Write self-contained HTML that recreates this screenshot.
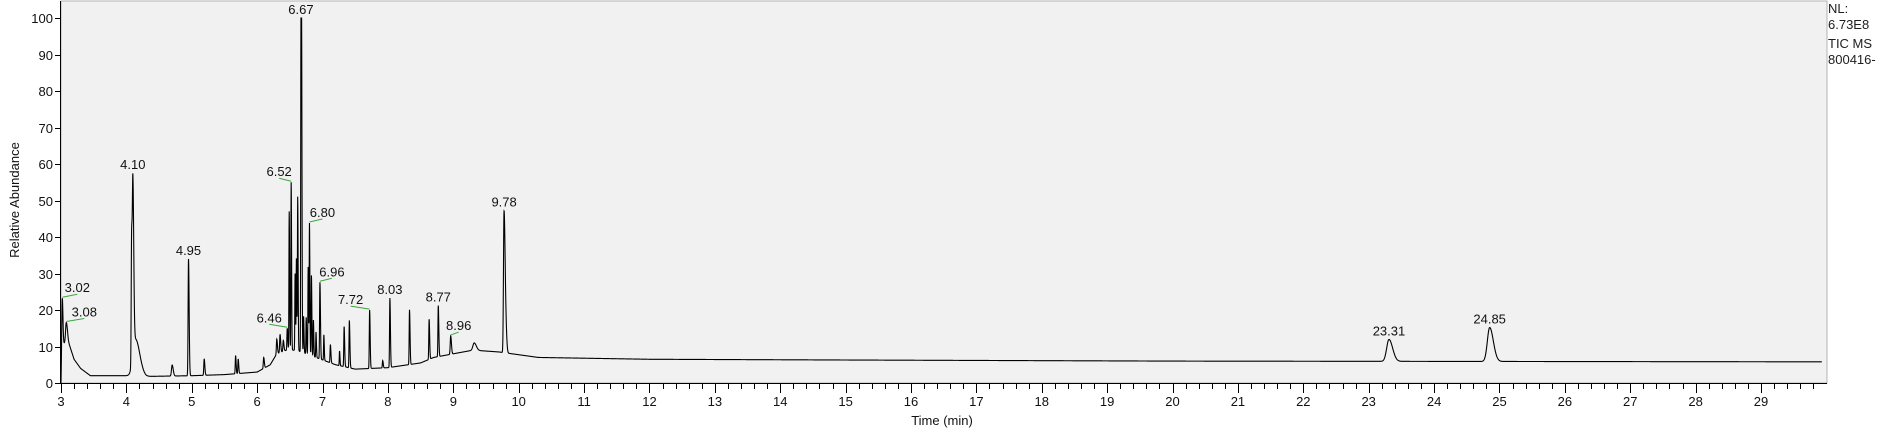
<!DOCTYPE html>
<html><head><meta charset="utf-8">
<style>
html,body{margin:0;padding:0;background:#fff;}
body{width:1879px;height:435px;overflow:hidden;font-family:"Liberation Sans",sans-serif;}
svg text{font-family:"Liberation Sans",sans-serif;}
</style></head>
<body>
<svg id="chart" width="1879" height="435" viewBox="0 0 1879 435" xmlns="http://www.w3.org/2000/svg">
<rect x="61" y="1" width="1766" height="382" fill="#f1f1f1" stroke="#b4b4b4" stroke-width="1"/>
<g id="axes"></g>
<path id="trace" fill="none" stroke="#000" stroke-width="1.1"/>
<g id="labels"></g>
<text x="942" y="425" font-size="13" text-anchor="middle" fill="#111">Time (min)</text>
<text transform="translate(19,200) rotate(-90)" font-size="13" text-anchor="middle" fill="#111">Relative Abundance</text>
<g font-size="13" fill="#202020">
<text x="1828" y="13">NL:</text>
<text x="1828" y="29">6.73E8</text>
<text x="1828" y="48">TIC  MS</text>
<text x="1828" y="64">800416-</text>
</g>
</svg>
<script>
// baseline profile (time, relative abundance)
const baseTimes = [3.0,3.01,3.1,3.2,3.3,3.45,4.0,4.25,4.3,5.0,5.5,6.0,6.2,6.3,6.45,6.6,6.9,7.2,7.5,8.0,8.5,8.7,9.0,9.3,9.7,9.9,10.3,12,15,20,25,29.95];
const baseValues = [0,10,12,6.5,4,2,2,2,1.8,2,2.3,3,5,8,9,9,7,5,3.8,4.2,5.5,7,8,9,8.5,8,7,6.5,6.3,6,5.9,5.8];
// peaks: retention time, height above baseline, width (min)
const peakTimes = [3.02,3.08,4.08,4.10,4.14,4.70,4.95,5.19,5.67,5.71,6.10,6.30,6.35,6.40,6.46,6.49,6.52,6.58,6.60,6.62,6.67,6.68,6.71,6.75,6.78,6.80,6.83,6.86,6.90,6.96,7.02,7.12,7.26,7.33,7.41,7.72,7.92,8.03,8.33,8.63,8.77,8.96,9.32,9.775,9.795,23.31,24.85];
const peakHeights = [13,5,35,45,10,3,32,4.5,5,4,3,4,5,3,6,38,46,21,25,42,91,70,10,10,24,36,22,10,7,21,7,5,4,11,13,16,2,19,15,11,14,5,2,37,12,6,9.3];
const peakWidths = [0.006,0.01,0.006,0.008,0.04,0.01,0.006,0.006,0.005,0.005,0.006,0.006,0.006,0.006,0.005,0.004,0.004,0.004,0.004,0.004,0.004,0.004,0.004,0.004,0.004,0.004,0.004,0.004,0.004,0.005,0.004,0.005,0.004,0.005,0.005,0.005,0.005,0.005,0.005,0.005,0.005,0.007,0.02,0.008,0.01,0.035,0.035];
// labelled peaks
const labelTimes = [3.02,3.08,4.10,4.95,6.46,6.52,6.67,6.80,6.96,7.72,8.03,8.77,8.96,9.78,23.31,24.85];
const labelTexts = ["3.02","3.08","4.10","4.95","6.46","6.52","6.67","6.80","6.96","7.72","8.03","8.77","8.96","9.78","23.31","24.85"];
const labelDx = [15,18,0,0,-18,-12,0,13,12,-19,0,0,8,0,0,0];
const xTicks = [3,4,5,6,7,8,9,10,11,12,13,14,15,16,17,18,19,20,21,22,23,24,25,26,27,28,29];
const yTicks = [0,10,20,30,40,50,60,70,80,90,100];

const X0=61, PX=65.385, Y0=383, PY=3.65;
const xs = t => X0 + (t-3)*PX;
const ys = v => Y0 - v*PY;
const NS="http://www.w3.org/2000/svg";

function baseline(t){
  for(let i=0;i<baseTimes.length-1;i++){
    if(t>=baseTimes[i] && t<=baseTimes[i+1]){
      const f=(t-baseTimes[i])/(baseTimes[i+1]-baseTimes[i]);
      return baseValues[i]+f*(baseValues[i+1]-baseValues[i]);
    }
  }
  return baseValues[baseValues.length-1];
}
function signal(t){
  let v=baseline(t);
  for(let i=0;i<peakTimes.length;i++){
    const d=t-peakTimes[i], w=peakWidths[i];
    if(Math.abs(d)>w*12) continue;
    const ww = d>0 ? w*1.6 : w; // tailing
    v+=peakHeights[i]*Math.exp(-0.5*(d/ww)*(d/ww));
  }
  return Math.min(v,100);
}
let d="";
for(let t=3.0;t<=29.93;t+=0.002){
  d+=(d?"L":"M")+xs(t).toFixed(2)+" "+ys(signal(t)).toFixed(2);
}
document.getElementById('trace').setAttribute('d',d);

const axes=document.getElementById('axes');
function mk(tag,attrs,parent){const e=document.createElementNS(NS,tag);for(const k in attrs)e.setAttribute(k,attrs[k]);parent.appendChild(e);return e;}
const xl=mk('line',{x1:61,y1:383.5,x2:1827,y2:383.5,stroke:'#000'},axes);


const yl=mk('line',{x1:60.5,y1:1,x2:60.5,y2:384,stroke:'#000'},axes);


for(let m=15;m<=149;m++){
  const t=m/5, x=Math.round(xs(t))+0.5;
  if(x>1827) break;
  const major = m%5===0;
  const tk=mk('line',{x1:x,y1:383,x2:x,y2:major?393:389,stroke:'#000'},axes);
  
  
}
xTicks.forEach(t=>{
  const tx=mk('text',{x:xs(t),y:406,'font-size':13,'text-anchor':'middle',fill:'#111'},axes);
  tx.textContent=t;
  
  
});
yTicks.forEach(v=>{
  const y=Math.round(ys(v))+0.5;
  const tk=mk('line',{x1:55,y1:y,x2:61,y2:y,stroke:'#000'},axes);
  
  
  const tx=mk('text',{x:53,y:y+4.5,'font-size':13,'text-anchor':'end',fill:'#111'},axes);
  tx.textContent=v;
  
  
});
const lg=document.getElementById('labels');
labelTimes.forEach((t,i)=>{
  let best=0,bt=t;
  for(let s=t-0.012;s<=t+0.012;s+=0.0005){const v=signal(s);if(v>best){best=v;bt=s;}}
  const ax=xs(bt), ay=ys(best);
  const dx=labelDx[i];
  if(dx!==0){
    const gl=mk('line',{x1:ax,y1:ay-1,x2:ax+dx,y2:ay-4,stroke:'#3aa83a','stroke-width':1},lg);
    
    
  }
  const tx=mk('text',{x:ax+dx,y:ay-(dx!==0?6:4),'font-size':13,'text-anchor':'middle',fill:'#111'},lg);
  tx.textContent=labelTexts[i];
  
  
});
</script>
</body></html>
